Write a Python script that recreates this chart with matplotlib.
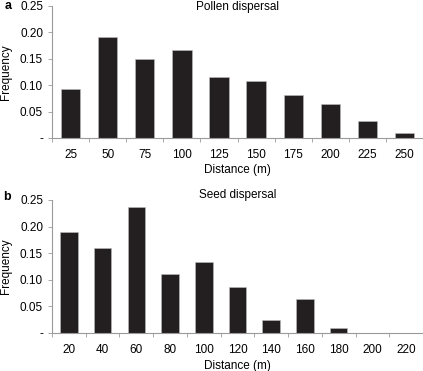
import numpy as np
import matplotlib as mpl
import matplotlib.pyplot as plt
from matplotlib.ticker import FixedLocator, FuncFormatter

mpl.rcParams.update({
    "font.family": ["Liberation Sans", "DejaVu Sans"],
    "font.size": 8,
    "axes.spines.right": False,
    "axes.spines.top": False,
})

# 数据
POLLEN_DIST = ["25", "50", "75", "100", "125", "150", "175", "200", "225", "250"]
POLLEN_FREQ = [0.092, 0.191, 0.150, 0.166, 0.115, 0.107, 0.082, 0.065, 0.032, 0.0095]

SEED_DIST = ["20", "40", "60", "80", "100", "120", "140", "160", "180", "200", "220"]
SEED_FREQ = [0.189, 0.159, 0.237, 0.111, 0.134, 0.087, 0.025, 0.064, 0.009, 0.0, 0.0]

YTICKS = [0, 0.05, 0.10, 0.15, 0.20, 0.25]

C_BAR = "#231f20"
C_AXIS = "#9a9a9a"


def _fmt(v, pos):
    return "-" if abs(v) < 1e-9 else f"{v:.2f}"


def _panel(ax, cats, vals, title, letter, title_y, xlab_pad, letter_y):
    x = np.arange(len(cats))
    ax.bar(x, vals, width=0.52, color=C_BAR, edgecolor="#bdbdbd", linewidth=0.4)
    ax.set_xlim(-0.5, len(cats) - 0.5)
    ax.set_ylim(0, 0.25)
    ax.set_xticks(x)
    ax.set_xticklabels(cats)
    ax.xaxis.set_minor_locator(FixedLocator(np.arange(len(cats) + 1) - 0.5))
    ax.tick_params(axis="x", which="major", length=0, pad=8, labelsize=8.5)
    ax.tick_params(axis="x", which="minor", length=3, color=C_AXIS, width=0.6)
    ax.set_yticks(YTICKS)
    ax.yaxis.set_major_formatter(FuncFormatter(_fmt))
    ax.tick_params(axis="y", length=3, color=C_AXIS, width=0.6, labelsize=8.5)
    for s in ("left", "bottom"):
        ax.spines[s].set_color(C_AXIS)
        ax.spines[s].set_linewidth(0.8)
    ax.set_xlabel("Distance (m)", fontsize=8.5, labelpad=xlab_pad)
    ax.set_ylabel("Frequency", fontsize=8.5, labelpad=6)
    ax.text(0.5, title_y, title, transform=ax.transAxes, fontsize=8.5,
            ha="center", va="center")
    ax.text(-0.11, letter_y, letter, transform=ax.transAxes, fontsize=9,
            fontweight="bold", ha="right", va="center")


def main():
    fig = plt.figure(figsize=(4.23, 3.71), dpi=100)
    ax_a = fig.add_axes([0.123, 0.628, 0.877, 0.356])
    ax_b = fig.add_axes([0.123, 0.103, 0.877, 0.358])
    _panel(ax_a, POLLEN_DIST, POLLEN_FREQ, "Pollen dispersal", "a", 0.99, 2, 1.0)
    _panel(ax_b, SEED_DIST, SEED_FREQ, "Seed dispersal", "b", 1.035, 3, 1.02)
    fig.savefig("out.png", dpi=100)


if __name__ == "__main__":
    main()
